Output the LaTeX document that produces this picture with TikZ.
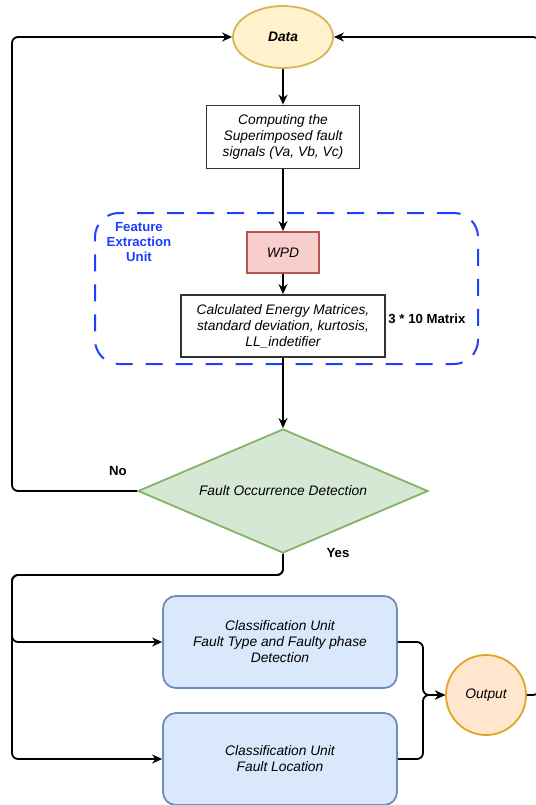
\documentclass[tikz,border=0pt]{standalone}
\usepackage{fontspec}
\setmainfont{Liberation Sans}
\usetikzlibrary{shapes.geometric,arrows.meta}

\definecolor{datafill}{HTML}{FFF2CC}
\definecolor{dataline}{HTML}{D6B656}
\definecolor{outfill}{HTML}{FFE6CC}
\definecolor{outline}{HTML}{E0A526}
\definecolor{wpdfill}{HTML}{F8CECC}
\definecolor{wpdline}{HTML}{B85450}
\definecolor{decfill}{HTML}{D5E8D4}
\definecolor{decline}{HTML}{82B366}
\definecolor{clsfill}{HTML}{DAE8FC}
\definecolor{clsline}{HTML}{6C8EBF}
\definecolor{unitblue}{HTML}{1F3FFF}

\newcommand{\flowfont}{\fontsize{13.8}{16}\selectfont\itshape}
\newcommand{\tagfont}{\fontsize{13.2}{15}\selectfont\bfseries}

\tikzset{
  line/.style={draw=black, line width=1.8pt, rounded corners=6pt},
  flow/.style={line, -{Stealth[length=10pt,width=9pt]}},
  box/.style={draw=black!80, line width=1.8pt, fill=white, align=center, font=\flowfont},
  clsbox/.style={box, draw=clsline, fill=clsfill, rounded corners=13pt,
    minimum width=234pt, minimum height=92pt},
  tag/.style={font=\tagfont, align=center}
}

\begin{document}
\begin{tikzpicture}[x=1pt, y=-1pt]
        \useasboundingbox (0,0) rectangle (535,805);
        % feature extraction frame
        \node[draw=unitblue, line width=2pt, rounded corners=24pt,
          dash pattern=on 17pt off 13pt, minimum width=383pt, minimum height=151pt]
          (unit) at (286.5,288.5) {};
        \node[tag, text=unitblue] (unitlabel) at (139,242) {Feature\\Extraction\\Unit};
        % nodes
        \node[ellipse, draw=dataline, fill=datafill, line width=1.8pt,
          minimum width=100pt, minimum height=62pt, font=\flowfont\bfseries] (data) at (283,37) {Data};
        \node[box, minimum width=153pt, minimum height=63pt] (compute) at (283,137)
          {Computing the\\Superimposed fault\\signals (Va, Vb, Vc)};
        \node[box, draw=wpdline, fill=wpdfill, minimum width=72pt, minimum height=41pt] (wpd) at (283,252.5) {WPD};
        \node[box, minimum width=204pt, minimum height=62pt] (energy) at (283,326)
          {Calculated Energy Matrices,\\standard deviation, kurtosis,\\LL\_indetifier};
        \node[tag] (matrix) at (427,319) {3 * 10 Matrix};
        \node[diamond, draw=decline, fill=decfill, line width=1.8pt, inner sep=0pt,
          aspect=2.3, minimum width=290pt, minimum height=124pt, font=\flowfont] (detect) at (283,491)
          {Fault Occurrence Detection};
        \node[tag] (nolabel) at (118,471) {No};
        \node[tag] (yeslabel) at (338,553) {Yes};
        \node[clsbox] (clstype) at (280,642)
          {Classification Unit\\Fault Type and Faulty phase\\Detection};
        \node[clsbox] (clsloc) at (280,759) {Classification Unit\\Fault Location};
        \node[circle, draw=outline, fill=outfill, line width=1.8pt, minimum size=80pt,
          inner sep=0pt, font=\flowfont] (output) at (486,695) {Output};
        % bends
        \coordinate (lnext) at (12,491);
        \coordinate (ltop) at (12,37);
        \coordinate (ybend) at (283,575);
        \coordinate (lbus) at (12,575);
        \coordinate (merge) at (423,695);
        \coordinate (rbot) at (539,695);
        \coordinate (rtop) at (539,37);
        % connectors
        \draw[flow] (data) -- (compute);
        \draw[flow] (compute) -- (wpd);
        \draw[flow] (wpd) -- (energy);
        \draw[flow] (energy) -- (detect);
        \draw[flow] (detect.west) -- (lnext) -- (ltop) -- (data.west);
        \draw[flow] (detect.south) -- (ybend) -- (lbus) -- (lbus |- clstype) -- (clstype.west);
        \draw[flow] (detect.south) -- (ybend) -- (lbus) -- (lbus |- clsloc) -- (clsloc.west);
        \draw[flow] (clstype.east) -- (merge |- clstype) -- (merge) -- (output.west);
        \draw[flow] (clsloc.east) -- (merge |- clsloc) -- (merge) -- (output.west);
        \draw[flow] (output.east) -- (rbot) -- (rtop) -- (data.east);
\end{tikzpicture}
\end{document}
